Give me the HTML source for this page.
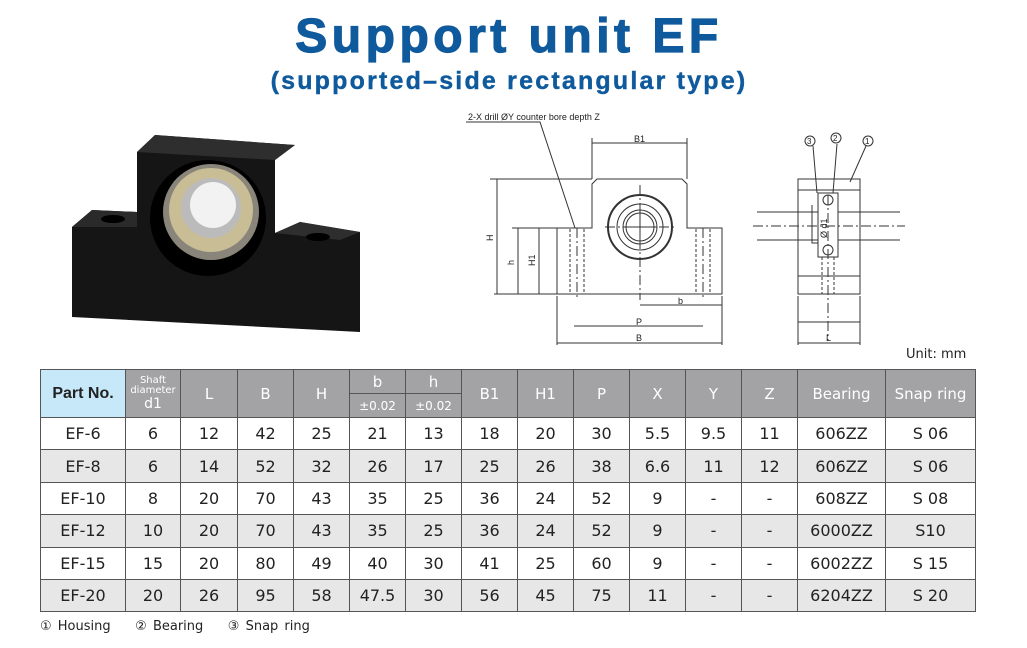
<!DOCTYPE html>
<html><head><meta charset="utf-8"><style>
body{margin:0;width:1027px;height:648px;background:#fff;position:relative;font-family:"Liberation Sans",sans-serif;overflow:hidden}
.t1{position:absolute;left:0;width:1018px;top:9px;text-align:center;color:#0f5a9c;font-weight:900;font-size:48px;letter-spacing:4.5px;-webkit-text-stroke:1.2px #0f5a9c}
.t2{position:absolute;left:0;width:1018px;top:67px;text-align:center;color:#0f5a9c;font-weight:bold;font-size:25px;letter-spacing:2.2px;-webkit-text-stroke:0.4px #0f5a9c}
table{position:absolute;left:40px;top:369px;border-collapse:collapse;font-family:"DejaVu Sans",sans-serif}
td{border:1px solid #555;text-align:center;font-size:16px;color:#222;padding:0;height:31.4px}
tr.h td{background:#a3a3a6;color:#fff;height:23px;font-size:15px}
tr.g td{background:#e7e7e8}
.unit{position:absolute;left:906px;top:347px;font-size:13px;color:#222;font-family:"DejaVu Sans",sans-serif}
.foot{position:absolute;left:40px;top:619px;font-size:13px;color:#222;font-family:"DejaVu Sans",sans-serif;word-spacing:2px}
</style></head><body>
<div class="t1">Support unit EF</div>
<div class="t2">(supported–side rectangular type)</div>
<svg style="position:absolute;left:0;top:0" width="1027" height="360">
<polygon points="72,227 92,210 137,212 137,152 155,135 295,145 275,160 275,233 300,222 360,232 360,332 72,317" fill="#151515"/>
<polygon points="72,227 92,210 137,212 137,227" fill="#2a2a2a"/>
<polygon points="137,152 155,135 295,145 275,160" fill="#2e2e2e"/>
<polygon points="275,233 300,222 360,232 340,240" fill="#2e2e2e"/>
<ellipse cx="113" cy="219" rx="12" ry="4" fill="#000"/>
<ellipse cx="318" cy="237" rx="12" ry="4" fill="#000"/>
<circle cx="208" cy="218" r="58" fill="#000"/>
<circle cx="211" cy="212" r="48" fill="#8a857a"/>
<circle cx="211" cy="210" r="42" fill="#c8bd95"/>
<circle cx="211" cy="208" r="30" fill="#bbbbbb"/>
<circle cx="213" cy="205" r="23" fill="#f2f2f2"/>
<g stroke="#333" stroke-width="1" fill="none">
<path d="M557,228 H592 V184 L597,179 H682 L687,184 V228 H722 V294 H557 Z"/>
<circle cx="640" cy="227" r="32" stroke-width="2"/>
<circle cx="640" cy="227" r="23"/><circle cx="640" cy="227" r="17"/><circle cx="640" cy="227" r="14"/>
<path d="M640,210 v34 M623,227 h34"/>
<path d="M570,229 V293 M584,229 V293 M696,229 V293 M710,229 V293" stroke-dasharray="3,2"/>
<path d="M640,185 V300 M577,228 V300 M703,228 V300 M605,227 H675" stroke-dasharray="10,3,2,3"/>
<path d="M490,179 H592 M512,228 H557 M494,294 H557 M497,179 V294 M518,228 V294 M539,228 V294"/>
<path d="M592,138 V179 M687,138 V179 M592,143 H687"/>
<path d="M557,296 V345 M722,296 V345 M557,343 H722 M574,326 H703 M640,305 H722"/>
<path d="M466,122 H540 L575,228"/>
<rect x="798" y="179" width="62" height="115"/>
<path d="M798,190 H860 M798,276 H860"/>
<rect x="818" y="193" width="20" height="64"/>
<path d="M757,212 H818 M838,212 H900 M757,240 H818 M838,240 H900 M812,205 V243 H818"/>
<path d="M753,226 H905 M828,195 V340" stroke-dasharray="10,3,2,3"/>
<circle cx="828" cy="200" r="5"/><circle cx="828" cy="250" r="5"/>
<path d="M822,257 V294 M834,257 V294" stroke-dasharray="3,2"/>
<path d="M798,296 V345 M860,296 V345 M798,343 H860 M798,322 H860"/>
<path d="M813,146 L817,193 M837,144 L833,193 M866,146 L850,182"/>
<circle cx="810" cy="141" r="5"/><circle cx="836" cy="138" r="5"/><circle cx="868" cy="141" r="5"/>
</g>
<g font-size="9" fill="#222" font-family="Liberation Sans">
<text x="468" y="120">2-X drill ØY counter bore depth Z</text>
<text x="634" y="142">B1</text><text x="678" y="304">b</text><text x="636" y="325">P</text><text x="636" y="341">B</text>
<text x="826" y="341">L</text>
<text x="807" y="144" font-size="8">3</text><text x="833" y="141" font-size="8">2</text><text x="865" y="144" font-size="8">1</text>
<text transform="translate(493,241) rotate(-90)">H</text>
<text transform="translate(514,265) rotate(-90)">h</text>
<text transform="translate(535,266) rotate(-90)">H1</text>
<text transform="translate(827,238) rotate(-90)">Ø d1</text>
</g>
</svg>
<div class="unit">Unit: mm</div>
<table>
<colgroup><col style="width:85px"><col style="width:55px"><col style="width:57px"><col style="width:56px"><col style="width:56px"><col style="width:56px"><col style="width:56px"><col style="width:56px"><col style="width:56px"><col style="width:56px"><col style="width:56px"><col style="width:56px"><col style="width:56px"><col style="width:88px"><col style="width:90px"></colgroup>
<tr class="h"><td rowspan="2" style="background:#c6e8f8;color:#222;font-weight:bold;font-family:'Liberation Sans';font-size:16px">Part No.</td><td rowspan="2" style="font-size:10px;line-height:10px">Shaft<br>diameter<br><span style="font-size:14px;line-height:16px">d1</span></td><td rowspan="2">L</td><td rowspan="2">B</td><td rowspan="2">H</td><td>b</td><td>h</td><td rowspan="2">B1</td><td rowspan="2">H1</td><td rowspan="2">P</td><td rowspan="2">X</td><td rowspan="2">Y</td><td rowspan="2">Z</td><td rowspan="2">Bearing</td><td rowspan="2">Snap ring</td></tr>
<tr class="h"><td style="font-size:12px">±0.02</td><td style="font-size:12px">±0.02</td></tr>
<tr><td>EF-6</td><td>6</td><td>12</td><td>42</td><td>25</td><td>21</td><td>13</td><td>18</td><td>20</td><td>30</td><td>5.5</td><td>9.5</td><td>11</td><td>606ZZ</td><td>S 06</td></tr>
<tr class="g"><td>EF-8</td><td>6</td><td>14</td><td>52</td><td>32</td><td>26</td><td>17</td><td>25</td><td>26</td><td>38</td><td>6.6</td><td>11</td><td>12</td><td>606ZZ</td><td>S 06</td></tr>
<tr><td>EF-10</td><td>8</td><td>20</td><td>70</td><td>43</td><td>35</td><td>25</td><td>36</td><td>24</td><td>52</td><td>9</td><td>-</td><td>-</td><td>608ZZ</td><td>S 08</td></tr>
<tr class="g"><td>EF-12</td><td>10</td><td>20</td><td>70</td><td>43</td><td>35</td><td>25</td><td>36</td><td>24</td><td>52</td><td>9</td><td>-</td><td>-</td><td>6000ZZ</td><td>S10</td></tr>
<tr><td>EF-15</td><td>15</td><td>20</td><td>80</td><td>49</td><td>40</td><td>30</td><td>41</td><td>25</td><td>60</td><td>9</td><td>-</td><td>-</td><td>6002ZZ</td><td>S 15</td></tr>
<tr class="g"><td>EF-20</td><td>20</td><td>26</td><td>95</td><td>58</td><td>47.5</td><td>30</td><td>56</td><td>45</td><td>75</td><td>11</td><td>-</td><td>-</td><td>6204ZZ</td><td>S 20</td></tr>
</table>
<div class="foot">① Housing &nbsp;&nbsp; ② Bearing &nbsp;&nbsp; ③ Snap ring</div>
</body></html>
